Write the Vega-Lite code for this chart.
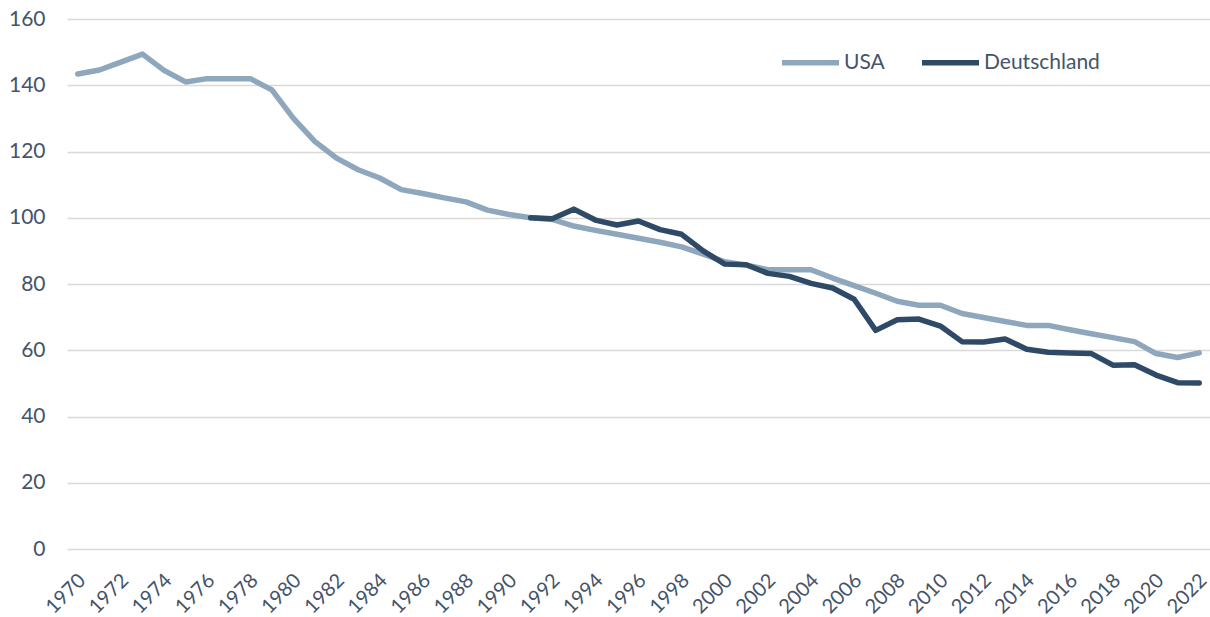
{
  "$schema": "https://vega.github.io/schema/vega-lite/v6.json",
  "width": 1143,
  "height": 530,
  "autosize": {"type": "none"},
  "padding": {"left": 67, "top": 19, "right": 0, "bottom": 68},
  "background": "white",
  "config": {"view": {"stroke": null}, "font": "Lato"},
  "data": {"values": [
    {"year": 1970, "country": "USA", "value": 143.4},
    {"year": 1971, "country": "USA", "value": 144.6},
    {"year": 1972, "country": "USA", "value": 147.0},
    {"year": 1973, "country": "USA", "value": 149.4},
    {"year": 1974, "country": "USA", "value": 144.5},
    {"year": 1975, "country": "USA", "value": 141.0},
    {"year": 1976, "country": "USA", "value": 142.0},
    {"year": 1977, "country": "USA", "value": 142.0},
    {"year": 1978, "country": "USA", "value": 142.0},
    {"year": 1979, "country": "USA", "value": 138.6},
    {"year": 1980, "country": "USA", "value": 130.0},
    {"year": 1981, "country": "USA", "value": 123.0},
    {"year": 1982, "country": "USA", "value": 118.0},
    {"year": 1983, "country": "USA", "value": 114.5},
    {"year": 1984, "country": "USA", "value": 112.0},
    {"year": 1985, "country": "USA", "value": 108.5},
    {"year": 1986, "country": "USA", "value": 107.3},
    {"year": 1987, "country": "USA", "value": 106.0},
    {"year": 1988, "country": "USA", "value": 104.8},
    {"year": 1989, "country": "USA", "value": 102.3},
    {"year": 1990, "country": "USA", "value": 101.0},
    {"year": 1991, "country": "USA", "value": 100.0},
    {"year": 1992, "country": "USA", "value": 99.5},
    {"year": 1993, "country": "USA", "value": 97.5},
    {"year": 1994, "country": "USA", "value": 96.2},
    {"year": 1995, "country": "USA", "value": 95.0},
    {"year": 1996, "country": "USA", "value": 93.8},
    {"year": 1997, "country": "USA", "value": 92.6},
    {"year": 1998, "country": "USA", "value": 91.2},
    {"year": 1999, "country": "USA", "value": 89.0},
    {"year": 2000, "country": "USA", "value": 86.7},
    {"year": 2001, "country": "USA", "value": 85.7},
    {"year": 2002, "country": "USA", "value": 84.3},
    {"year": 2003, "country": "USA", "value": 84.3},
    {"year": 2004, "country": "USA", "value": 84.3},
    {"year": 2005, "country": "USA", "value": 81.8},
    {"year": 2006, "country": "USA", "value": 79.5},
    {"year": 2007, "country": "USA", "value": 77.2},
    {"year": 2008, "country": "USA", "value": 74.8},
    {"year": 2009, "country": "USA", "value": 73.6},
    {"year": 2010, "country": "USA", "value": 73.6},
    {"year": 2011, "country": "USA", "value": 71.1},
    {"year": 2012, "country": "USA", "value": 69.9},
    {"year": 2013, "country": "USA", "value": 68.7},
    {"year": 2014, "country": "USA", "value": 67.5},
    {"year": 2015, "country": "USA", "value": 67.5},
    {"year": 2016, "country": "USA", "value": 66.2},
    {"year": 2017, "country": "USA", "value": 65.0},
    {"year": 2018, "country": "USA", "value": 63.8},
    {"year": 2019, "country": "USA", "value": 62.6},
    {"year": 2020, "country": "USA", "value": 59.0},
    {"year": 2021, "country": "USA", "value": 57.8},
    {"year": 2022, "country": "USA", "value": 59.2},
    {"year": 1991, "country": "Deutschland", "value": 100.0},
    {"year": 1992, "country": "Deutschland", "value": 99.7},
    {"year": 1993, "country": "Deutschland", "value": 102.6},
    {"year": 1994, "country": "Deutschland", "value": 99.3},
    {"year": 1995, "country": "Deutschland", "value": 97.8},
    {"year": 1996, "country": "Deutschland", "value": 99.0},
    {"year": 1997, "country": "Deutschland", "value": 96.4},
    {"year": 1998, "country": "Deutschland", "value": 95.0},
    {"year": 1999, "country": "Deutschland", "value": 90.0},
    {"year": 2000, "country": "Deutschland", "value": 86.0},
    {"year": 2001, "country": "Deutschland", "value": 85.8},
    {"year": 2002, "country": "Deutschland", "value": 83.2},
    {"year": 2003, "country": "Deutschland", "value": 82.3},
    {"year": 2004, "country": "Deutschland", "value": 80.2},
    {"year": 2005, "country": "Deutschland", "value": 78.8},
    {"year": 2006, "country": "Deutschland", "value": 75.4},
    {"year": 2007, "country": "Deutschland", "value": 66.0},
    {"year": 2008, "country": "Deutschland", "value": 69.2},
    {"year": 2009, "country": "Deutschland", "value": 69.4},
    {"year": 2010, "country": "Deutschland", "value": 67.3},
    {"year": 2011, "country": "Deutschland", "value": 62.6},
    {"year": 2012, "country": "Deutschland", "value": 62.5},
    {"year": 2013, "country": "Deutschland", "value": 63.4},
    {"year": 2014, "country": "Deutschland", "value": 60.3},
    {"year": 2015, "country": "Deutschland", "value": 59.4},
    {"year": 2016, "country": "Deutschland", "value": 59.2},
    {"year": 2017, "country": "Deutschland", "value": 59.0},
    {"year": 2018, "country": "Deutschland", "value": 55.5},
    {"year": 2019, "country": "Deutschland", "value": 55.6},
    {"year": 2020, "country": "Deutschland", "value": 52.5},
    {"year": 2021, "country": "Deutschland", "value": 50.2},
    {"year": 2022, "country": "Deutschland", "value": 50.1}
  ]},
  "mark": {"type": "line", "strokeWidth": 5.5, "strokeCap": "round", "strokeJoin": "round"},
  "encoding": {
    "x": {
      "field": "year", "type": "quantitative",
      "scale": {"domain": [1969.5, 2022.5], "nice": false, "zero": false},
      "axis": {
        "title": null, "grid": false, "domain": false, "ticks": false,
        "values": [1970,1972,1974,1976,1978,1980,1982,1984,1986,1988,1990,1992,1994,1996,1998,2000,2002,2004,2006,2008,2010,2012,2014,2016,2018,2020,2022],
        "format": "d", "labelAngle": -45, "labelAlign": "right", "labelBaseline": "top",
        "labelFontSize": 20, "labelColor": "#44546A", "labelPadding": 21, "labelOffset": -3, "labelOverlap": false, "labelFlush": false
      }
    },
    "y": {
      "field": "value", "type": "quantitative",
      "scale": {"domain": [0, 160], "nice": false},
      "axis": {
        "title": null, "values": [0,20,40,60,80,100,120,140,160], "domain": false, "ticks": false,
        "gridColor": "#D9D9D9", "gridWidth": 1.5,
        "labelFontSize": 21, "labelColor": "#44546A", "labelPadding": 22
      }
    },
    "color": {
      "field": "country", "type": "nominal",
      "scale": {"domain": ["USA", "Deutschland"], "range": ["#8FA7BC", "#2E4A66"]},
      "legend": {
        "title": null, "orient": "none", "direction": "horizontal",
        "legendX": 712, "legendY": 12,
        "symbolType": "stroke", "symbolSize": 3250, "symbolStrokeWidth": 5.5,
        "labelFontSize": 21, "labelColor": "#44546A", "labelOffset": 2, "columnPadding": 25
      }
    },
    "order": {"field": "country"}
  }
}
